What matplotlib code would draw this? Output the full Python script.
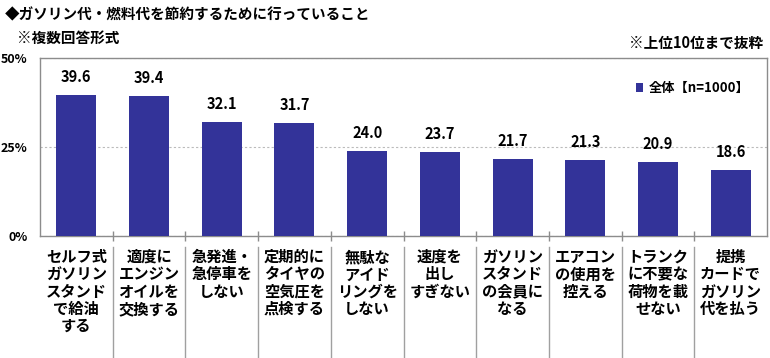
import matplotlib.pyplot as plt
import matplotlib.transforms as mtransforms

plt.rcParams['font.family'] = ['Noto Sans CJK JP', 'DejaVu Sans']
plt.rcParams['font.weight'] = 'bold'

categories = ['セルフ式\nガソリン\nスタンド\nで給油\nする',
              '適度に\nエンジン\nオイルを\n交換する',
              '急発進・\n急停車を\nしない',
              '定期的に\nタイヤの\n空気圧を\n点検する',
              '無駄な\nアイド\nリングを\nしない',
              '速度を\n出し\nすぎない',
              'ガソリン\nスタンド\nの会員に\nなる',
              'エアコン\nの使用を\n控える',
              'トランク\nに不要な\n荷物を載\nせない',
              '提携\nカードで\nガソリン\n代を払う']
values = [39.6, 39.4, 32.1, 31.7, 24.0, 23.7, 21.7, 21.3, 20.9, 18.6]
yticks = [0, 25, 50]
ytick_labels = ['0%', '25%', '50%']
series_label = '全体【n=1000】'
title = '◆ガソリン代・燃料代を節約するために行っていること'
subtitle = '※複数回答形式'
note = '※上位10位まで抜粋'

W, H = 770, 358
fig = plt.figure(figsize=(W / 100, H / 100), dpi=100)
ax = fig.add_axes([40 / W, (H - 236) / H, 727 / W, 178 / H])

x = list(range(len(values)))
bars = ax.bar(x, values, width=0.55, color='#333399', label=series_label, zorder=3)

ax.set_xlim(-0.5, len(values) - 0.5)
ax.set_ylim(0, 50)
ax.set_yticks(yticks)
ax.set_yticklabels(ytick_labels, fontsize=9, fontweight='bold')
ax.tick_params(axis='y', length=0, pad=9)
ax.yaxis.grid(True, color='#bbbbbb', linestyle=(0, (2, 2)), linewidth=0.8, zorder=0)

for s in ax.spines.values():
    s.set_color('#8c8c8c')
    s.set_linewidth(1)

# category boundaries
bounds = [i + 0.5 for i in range(len(values) - 1)]
ax.set_xticks(bounds)
ax.set_xticklabels([])
ax.tick_params(axis='x', direction='inout', length=7, color='#8c8c8c', width=1)

trans = mtransforms.blended_transform_factory(ax.transData, ax.transAxes)
for b in bounds:
    ax.plot([b, b], [-11 / 178, -130 / 178], transform=trans, color='#a0a0a0',
            linewidth=1, clip_on=False)

for i, lab in enumerate(categories):
    ax.text(i, -13 / 178, lab, transform=trans, ha='center', va='top',
            fontsize=11, fontweight='bold', linespacing=1.1)

for rect, v in zip(bars, values):
    ax.annotate(f'{v:.1f}', (rect.get_x() + rect.get_width() / 2, v),
                xytext=(0, 13), textcoords='offset points', ha='center',
                va='center', fontsize=10.5, fontweight='bold')

leg = ax.legend(loc='center right', bbox_to_anchor=(0.985, 0.831), frameon=False,
                handlelength=0.6, handleheight=0.6, handletextpad=0.4,
                borderpad=0, prop={'size': 9.5, 'weight': 'bold'})

fig.text(5 / W, 1 - 14 / H, title, ha='left', va='center', fontsize=10.5, fontweight='bold')
fig.text(17 / W, 1 - 38 / H, subtitle, ha='left', va='center', fontsize=10.5, fontweight='bold')
fig.text(763 / W, 1 - 43 / H, note, ha='right', va='center', fontsize=10.5, fontweight='bold')

fig.savefig('out.png', dpi=100)
